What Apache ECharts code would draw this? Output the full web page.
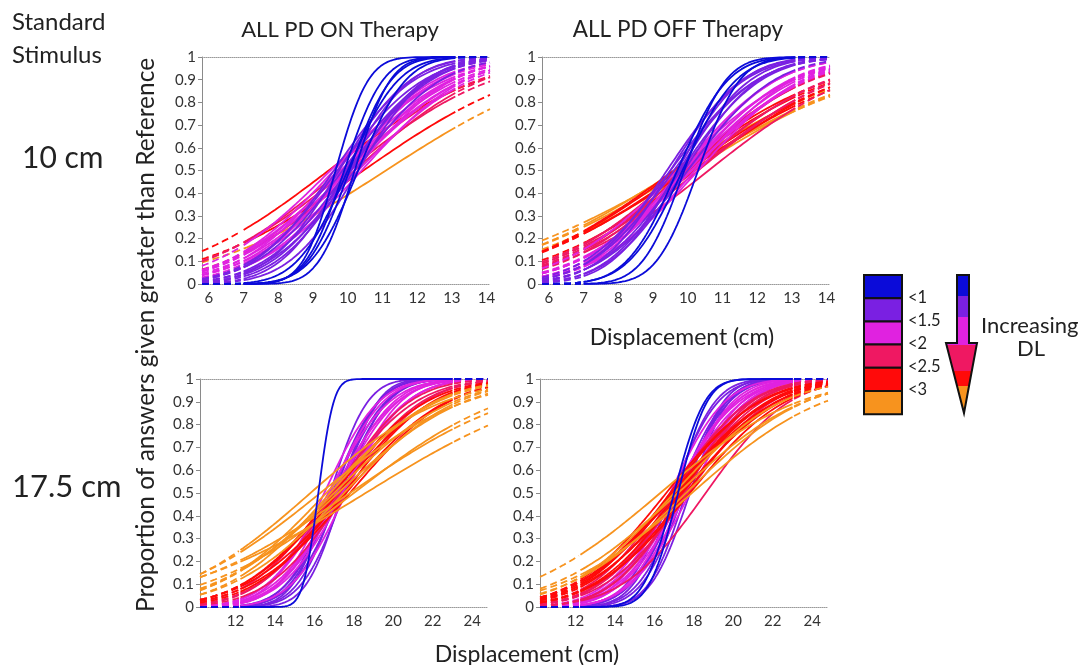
<!DOCTYPE html>
<html>
<head>
<meta charset="utf-8">
<title>Psychometric curves - PD ON / OFF therapy</title>
<script src="https://cdn.jsdelivr.net/npm/echarts@6/dist/echarts.min.js"></script>
<style>
  html, body { margin: 0; padding: 0; background: #fff; }
  .chart { width: 1081px; height: 665px; }
</style>
</head>
<body>
<div class="chart"></div>
<script>
// DL classes (legend on the right)
var dlEdges = [1, 1.5, 2, 2.5, 3];
var dlLabels = ['<1', '<1.5', '<2', '<2.5', '<3'];
var dlColors = ['#0b0bd9', '#7a20e2', '#e022e0', '#ef1862', '#ff0a0a', '#f7931e'];

// axis ranges, tick labels and tested stimulus range (solid part of the curves)
var range10 = [5.8, 14.1];
var range175 = [10.2, 24.8];
var ticks10 = [6, 7, 8, 9, 10, 11, 12, 13, 14];
var ticks175 = [12, 14, 16, 18, 20, 22, 24];
var tested10 = [7, 13.1];
var tested175 = [12.25, 23];

// each subject's fit: PSE (cm) and DL (cm); sd of the cumulative Gaussian = 1.35 * DL
var sdPerDL = 1.35;

// 10 cm, ON therapy
var pseOn10 = [11.1, 9.45, 10.45, 9.8, 10.2, 10.0, 9.5, 9.7, 9.8, 9.9, 10.0, 10.0, 10.1, 10.2, 10.3, 9.6, 10.4, 9.85,
  9.6, 9.75, 9.85, 9.95, 10.0, 10.1, 10.2, 10.3, 9.7, 10.05, 9.65, 9.9, 10.05, 10.2, 10.3, 10.0];
var dlOn10 = [3.0, 2.55, 2.8, 2.3, 2.15, 2.45, 1.95, 1.65, 1.85, 1.6, 1.95, 1.75, 1.9, 1.65, 1.9, 1.8, 1.75, 1.95,
  1.35, 1.2, 1.45, 1.1, 1.4, 1.25, 1.45, 1.15, 1.45, 1.3, 0.55, 0.65, 0.7, 0.6, 0.8, 0.85];

// 10 cm, OFF therapy
var pseOff10 = [9.67, 9.9, 10.1, 9.8, 9.7, 10.0, 10.2, 9.9, 9.6, 9.8, 10.0, 10.1, 10.2, 9.9, 10.3, 10.0, 10.6,
  9.8, 9.9, 10.0, 10.1, 10.2, 9.7, 10.0, 10.3, 9.9, 10.1, 9.4, 9.5, 9.6, 9.7, 9.8, 9.9, 10.0, 9.5, 9.75,
  10.3, 9.9, 9.7, 9.85];
var dlOff10 = [3.05, 3.2, 3.1, 3.4, 2.7, 2.9, 2.6, 2.8, 2.65, 2.2, 2.4, 2.3, 2.45, 2.1, 2.35, 2.05, 2.45,
  1.6, 1.8, 1.7, 1.9, 1.65, 1.95, 1.85, 1.75, 1.55, 1.95, 1.3, 1.2, 1.4, 1.1, 1.35, 1.25, 1.45, 1.45, 1.2,
  0.7, 0.7, 0.85, 0.9];

// 17.5 cm, ON therapy
var pseOn175 = [16.8, 17.0, 17.2, 17.3, 17.5, 17.1, 17.4, 16.9, 16.5, 16.7, 16.9, 17.1, 17.3, 17.5, 17.6, 16.8, 17.2, 17.4,
  17.0, 17.3, 17.6, 16.9, 17.2, 17.5, 17.8, 17.0, 17.6, 15.8, 16.3, 18.6, 17.8, 17.2, 17.5, 16.8, 17.0, 18.0, 16.6, 16.2];
var dlOn175 = [1.1, 1.3, 1.2, 1.4, 1.25, 1.45, 1.05, 1.35, 1.6, 1.8, 1.9, 1.7, 1.95, 1.85, 1.6, 1.55, 1.75, 1.9,
  2.2, 2.4, 2.3, 2.45, 2.8, 2.6, 2.9, 2.7, 2.95, 3.9, 4.25, 5.55, 5.0, 3.7, 3.35, 3.05, 3.5, 4.45, 3.25, 0.45];

// 17.5 cm, OFF therapy
var pseOff175 = [17.0, 17.2, 17.4, 17.6, 17.3, 17.5, 16.9, 17.8, 16.8, 17.0, 17.2, 17.4, 17.6, 17.1, 17.3, 17.8, 17.5, 16.9,
  17.0, 17.3, 17.5, 17.2, 17.7, 16.8, 17.4, 18.6, 16.8, 17.0, 17.2, 17.4, 16.6, 17.1, 17.6, 16.9, 17.3, 17.8,
  16.3, 17.2, 17.6, 17.0, 17.9, 17.2, 17.0];
var dlOff175 = [1.2, 1.4, 1.3, 1.1, 1.45, 1.25, 1.35, 1.15, 1.6, 1.8, 1.7, 1.9, 1.65, 1.95, 1.55, 1.75, 1.85, 1.95,
  2.2, 2.4, 2.1, 2.3, 2.45, 2.35, 2.05, 2.45, 2.6, 2.8, 2.7, 2.9, 2.75, 2.95, 2.65, 2.85, 2.55, 2.8,
  4.05, 3.7, 3.5, 3.15, 3.9, 0.85, 0.9];

var fontFamily = 'Lato, "Open Sans", sans-serif';

// erf (Abramowitz & Stegun 7.1.26)
function erf(x) {
  var s = x < 0 ? -1 : 1;
  x = Math.abs(x);
  var t = 1 / (1 + 0.3275911 * x);
  var y = 1 - ((((1.061405429 * t - 1.453152027) * t + 1.421413741) * t - 0.284496736) * t + 0.254829592) * t * Math.exp(-x * x);
  return s * y;
}
function cdf(x, mu, sd) {
  return 0.5 * (1 + erf((x - mu) / (sd * Math.SQRT2)));
}
function curve(a, b, mu, dl) {
  var pts = [];
  var n = Math.max(2, Math.round((b - a) / 0.05));
  for (var i = 0; i <= n; i++) {
    var x = a + (b - a) * i / n;
    pts.push([x, cdf(x, mu, dl * sdPerDL)]);
  }
  return pts;
}
function dlColor(dl) {
  for (var i = 0; i < dlEdges.length; i++) {
    if (dl < dlEdges[i]) return dlColors[i];
  }
  return dlColors[dlColors.length - 1];
}

var panels = [
  { pse: pseOn10, dl: dlOn10, range: range10, ticks: ticks10, tested: tested10, grid: { left: 202, top: 57, width: 288, height: 227 } },
  { pse: pseOff10, dl: dlOff10, range: range10, ticks: ticks10, tested: tested10, grid: { left: 542, top: 57, width: 288, height: 227 } },
  { pse: pseOn175, dl: dlOn175, range: range175, ticks: ticks175, tested: tested175, grid: { left: 200, top: 379, width: 288, height: 228 } },
  { pse: pseOff175, dl: dlOff175, range: range175, ticks: ticks175, tested: tested175, grid: { left: 540, top: 379, width: 288, height: 228 } }
];

var grids = [], xAxes = [], yAxes = [], series = [];
panels.forEach(function(p, i) {
  grids.push(p.grid);
  // bottom axis with labels
  xAxes.push({
    gridIndex: i, type: 'value', min: p.range[0], max: p.range[1],
    axisLine: { lineStyle: { color: '#9a9a9a', type: 'dotted' } },
    axisTick: { show: false },
    splitLine: { show: false },
    axisLabel: { customValues: p.ticks, color: '#333', fontSize: 15, fontFamily: fontFamily, margin: 7 }
  });
  // dotted line at y = 1
  xAxes.push({
    gridIndex: i, type: 'value', position: 'top', min: p.range[0], max: p.range[1],
    axisLine: { onZero: false, lineStyle: { color: '#9a9a9a', type: 'dotted' } },
    axisTick: { show: false },
    splitLine: { show: false },
    axisLabel: { show: false }
  });
  yAxes.push({
    gridIndex: i, type: 'value', min: 0, max: 1, interval: 0.1,
    axisLine: { show: true, lineStyle: { color: '#8a8a8a' } },
    axisTick: { show: true, length: 4, lineStyle: { color: '#8a8a8a' } },
    splitLine: { show: false },
    axisLabel: { color: '#333', fontSize: 15, fontFamily: fontFamily, margin: 6 }
  });
  for (var k = 0; k < p.pse.length; k++) {
    var mu = p.pse[k], dl = p.dl[k], color = dlColor(dl);
    var parts = [
      { data: curve(p.range[0], p.tested[0] - 0.08, mu, dl), type: [7, 4] },
      { data: curve(p.tested[0], p.tested[1], mu, dl), type: 'solid' },
      { data: curve(p.tested[1] + 0.08, p.range[1], mu, dl), type: [7, 4] }
    ];
    parts.forEach(function(part) {
      series.push({
        type: 'line',
        xAxisIndex: 2 * i,
        yAxisIndex: i,
        data: part.data,
        showSymbol: false,
        symbol: 'none',
        silent: true,
        animation: false,
        lineStyle: { color: color, width: 1.8, type: part.type }
      });
    });
  }
});

// legend boxes and labels
var legendTop = 274, boxH = 23.2;
var graphics = [];
dlColors.forEach(function(c, i) {
  graphics.push({
    type: 'rect', left: 863, top: legendTop + i * boxH,
    shape: { width: 38, height: boxH },
    style: { fill: c, stroke: '#111', lineWidth: 2 }
  });
});
dlLabels.forEach(function(t, i) {
  graphics.push({
    type: 'text', x: 908, y: legendTop + (i + 1) * boxH,
    style: { text: t, fill: '#222', font: '16.5px ' + fontFamily, textVerticalAlign: 'middle' }
  });
});
// arrow, coloured from low to high DL
graphics.push({
  type: 'polygon',
  shape: { points: [[957, 275], [969, 275], [969, 343], [977, 343], [964, 413], [946, 343], [957, 343]] },
  style: {
    stroke: '#111', lineWidth: 2,
    fill: new echarts.graphic.LinearGradient(0, 0, 0, 1, [
      { offset: 0, color: dlColors[0] }, { offset: 0.16, color: dlColors[0] },
      { offset: 0.16, color: dlColors[1] }, { offset: 0.31, color: dlColors[1] },
      { offset: 0.31, color: dlColors[2] }, { offset: 0.51, color: dlColors[2] },
      { offset: 0.51, color: dlColors[3] }, { offset: 0.69, color: dlColors[3] },
      { offset: 0.69, color: dlColors[4] }, { offset: 0.8, color: dlColors[4] },
      { offset: 0.8, color: dlColors[5] }, { offset: 1, color: dlColors[5] }
    ])
  }
});

function label(text, x, y, size, align) {
  return {
    type: 'text', x: x, y: y,
    style: { text: text, fill: '#222', font: size + 'px ' + fontFamily, textAlign: align || 'left', textVerticalAlign: 'middle' }
  };
}
graphics.push(label('Increasing', 981, 326, 22));
graphics.push(label('DL', 1031, 349, 22, 'center'));
graphics.push(label('Standard', 12, 22, 24));
graphics.push(label('Stimulus', 12, 55, 24));
graphics.push(label('10 cm', 22, 158, 30));
graphics.push(label('17.5 cm', 12, 487, 31));
graphics.push(label('ALL PD ON Therapy', 340, 30, 22, 'center'));
graphics.push(label('ALL PD OFF Therapy', 678, 30, 22.5, 'center'));
graphics.push(label('Displacement (cm)', 682, 338, 23, 'center'));
graphics.push(label('Displacement (cm)', 527, 655, 23, 'center'));
var yTitle = label('Proportion of answers given greater than Reference', 146, 335, 24.5, 'center');
yTitle.rotation = Math.PI / 2;
graphics.push(yTitle);

var myChart = echarts.init(document.querySelector('.chart'));
var option = {
  backgroundColor: '#fff',
  animation: false,
  grid: grids,
  xAxis: xAxes,
  yAxis: yAxes,
  series: series,
  graphic: graphics
};
myChart.setOption(option);
window.addEventListener('resize', function() {
  myChart.resize();
});
</script>
</body>
</html>
